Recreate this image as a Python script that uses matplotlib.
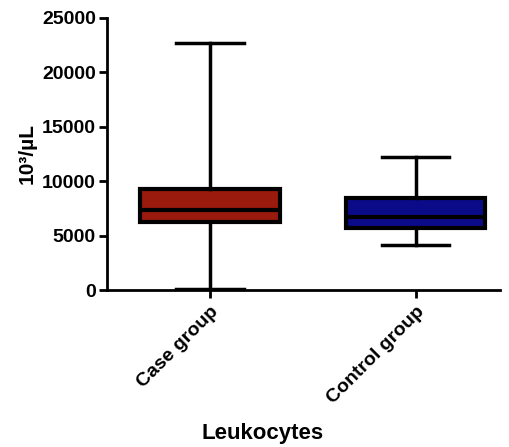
import matplotlib
matplotlib.use("Agg")
import matplotlib.pyplot as plt

plt.rcParams['font.family'] = ['Liberation Sans', 'DejaVu Sans']
plt.rcParams['font.weight'] = 'bold'

categories = ["Case group", "Control group"]
whisker_low = [100, 4150]
q1 = [6280, 5700]
median = [7350, 6700]
q3 = [9300, 8450]
whisker_high = [22700, 12200]
colors = ["#9a1a0e", "#0b0b8a"]
yticks = [0, 5000, 10000, 15000, 20000, 25000]

fig = plt.figure(figsize=(5.09, 4.47), dpi=100)
ax = fig.add_axes([0.21, 0.351, 0.772, 0.609])

stats = []
for i, c in enumerate(categories):
    stats.append(dict(label=c, whislo=whisker_low[i], q1=q1[i], med=median[i],
                      q3=q3[i], whishi=whisker_high[i], fliers=[]))
bp = ax.bxp(stats, positions=[1, 2], widths=0.68, patch_artist=True,
            showfliers=False,
            boxprops=dict(linewidth=3, edgecolor='black'),
            medianprops=dict(color='black', linewidth=3),
            whiskerprops=dict(color='black', linewidth=2.5),
            capprops=dict(color='black', linewidth=2.5),
            capwidths=0.33)
for patch, col in zip(bp['boxes'], colors):
    patch.set_facecolor(col)

ax.set_xlim(0.498, 2.41)
ax.set_ylim(0, 25000)
ax.set_yticks(yticks)
ax.set_yticklabels([str(t) for t in yticks], fontsize=14, fontweight='bold')
ax.set_xticks([1, 2])
ax.set_xticklabels(categories, rotation=45, ha='right', rotation_mode='anchor',
                   fontsize=14, fontweight='bold')
for s in ['top', 'right']:
    ax.spines[s].set_visible(False)
for s in ['left', 'bottom']:
    ax.spines[s].set_linewidth(2)
ax.tick_params(axis='both', width=2, length=6)
ax.tick_params(axis='y', pad=2)
ax.set_ylabel("10³/µL", fontsize=15, fontweight='bold', labelpad=4)
fig.text(263/509, 1-433/447, "Leukocytes", ha='center', va='center',
         fontsize=16, fontweight='bold')

fig.savefig("out.png", dpi=100)
